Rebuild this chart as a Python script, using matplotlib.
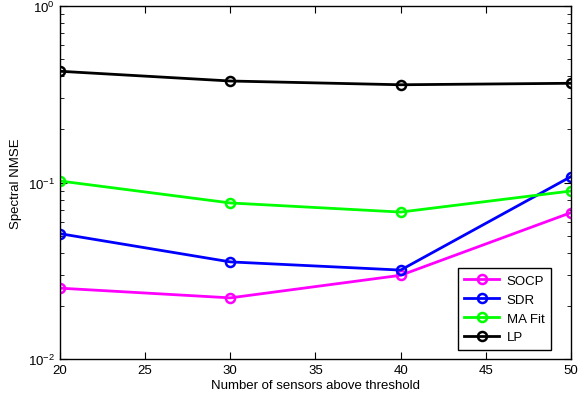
import matplotlib
matplotlib.use('Agg')
import matplotlib.pyplot as plt

plt.rcParams['font.family'] = ['Liberation Sans', 'DejaVu Sans']
plt.rcParams['mathtext.fontset'] = 'custom'
plt.rcParams['mathtext.rm'] = 'Liberation Sans'

# data
sensors = [20, 30, 40, 50]
socp = [0.0252, 0.0222, 0.0298, 0.0675]
sdr = [0.0513, 0.0355, 0.0319, 0.108]
ma_fit = [0.102, 0.0766, 0.068, 0.0895]
lp = [0.427, 0.376, 0.358, 0.365]

fig = plt.figure(figsize=(5.82, 4.02), dpi=100)
ax = fig.add_axes([0.103, 0.1045, 0.878, 0.878])

style = dict(marker='o', markerfacecolor='none', markersize=6.5, linewidth=2, markeredgewidth=1.8)
ax.plot(sensors, socp, color='#ff00ff', label='SOCP', **style)
ax.plot(sensors, sdr, color='#0000ff', label='SDR', **style)
ax.plot(sensors, ma_fit, color='#00ff00', label='MA Fit', **style)
ax.plot(sensors, lp, color='black', label='LP', **style)

ax.set_yscale('log')
ax.set_xlim(20, 50)
ax.set_ylim(1e-2, 1e0)
ax.set_xticks([20, 25, 30, 35, 40, 45, 50])
ax.tick_params(which='both', direction='in', top=True, right=True, labelsize=9.5)
ax.tick_params(which='major', length=5)
ax.tick_params(which='minor', length=3)
for s in ax.spines.values():
    s.set_linewidth(1)

ax.set_xlabel('Number of sensors above threshold', fontsize=9.5, labelpad=2)
ax.set_ylabel('Spectral NMSE', fontsize=9.5, labelpad=4)

leg = ax.legend(loc='lower right', bbox_to_anchor=(0.961, 0.0255), fontsize=9.5,
                fancybox=False, edgecolor='black', framealpha=1, handlelength=2.6,
                borderaxespad=0, labelspacing=0.5, handletextpad=0.6, borderpad=0.5)
leg.get_frame().set_linewidth(1)

fig.savefig('out.png', dpi=100)
